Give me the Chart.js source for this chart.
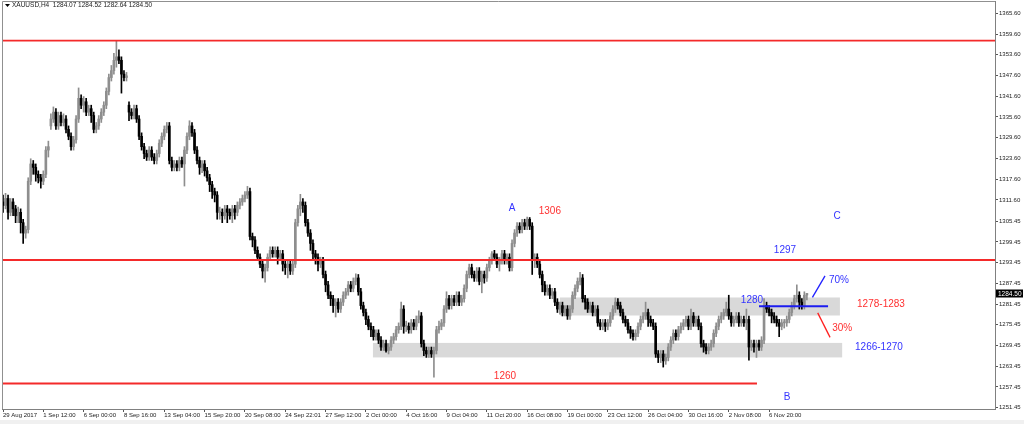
<!DOCTYPE html>
<html>
<head>
<meta charset="utf-8">
<script src="https://cdn.jsdelivr.net/npm/chart.js@4.4.1/dist/chart.umd.min.js"></script>
<style>
html, body { margin: 0; padding: 0; background: #fff; overflow: hidden; }
</style>
</head>
<body>
<canvas id="chart" width="1024" height="424"></canvas>
<script>
// XAUUSD H4 candles
const opens = [1311,1310,1312,1308,1311,1309,1307,1308,1305,1302,
1303,1317,1322,1321,1319,1318,1317,1319,1326,1333,
1335,1337,1333,1336,1334,1335,1332,1330,1327,1329,
1335,1341,1339,1340,1337,1338,1336,1332,1333,1335,
1337,1339,1343,1347,1349,1352,1353,1352,1348,1347,
1339,1337,1336,1338,1335,1330,1327,1325,1324,1326,
1324,1323,1325,1328,1330,1332,1333,1323,1321,1322,
1321,1323,1322,1326,1330,1333,1331,1326,1323,1321,
1322,1320,1318,1316,1314,1313,1308,1308,1307,1309,
1308,1307,1309,1308,1310,1311,1312,1313,1314,1301,
1300,1297,1295,1293,1291,1292,1295,1297,1296,1297,
1295,1296,1293,1292,1293,1291,1293,1305,1309,1311,
1310,1305,1302,1299,1296,1295,1293,1294,1290,1287,
1284,1283,1281,1282,1280,1282,1284,1285,1287,1286,
1288,1289,1285,1281,1279,1277,1275,1274,1272,1273,
1271,1269,1270,1268,1269,1271,1272,1274,1275,1280,
1275,1275,1274,1276,1275,1277,1278,1270,1268,1267,
1268,1267,1268,1274,1275,1276,1280,1283,1281,1283,
1282,1284,1282,1283,1286,1290,1292,1290,1289,1291,
1288,1290,1289,1292,1294,1296,1295,1293,1294,1296,
1294,1295,1292,1299,1302,1304,1303,1305,1304,1306,
1304,1294,1295,1293,1290,1287,1285,1286,1284,1285,
1282,1280,1281,1279,1280,1278,1280,1284,1286,1288,
1289,1283,1282,1280,1281,1279,1280,1276,1275,1276,
1275,1276,1278,1280,1282,1281,1279,1277,1276,1274,
1273,1272,1273,1275,1277,1278,1279,1277,1276,1275,
1267,1266,1267,1265,1266,1269,1271,1273,1272,1274,
1275,1276,1277,1275,1278,1276,1277,1275,1270,1269,
1268,1269,1270,1273,1275,1277,1278,1279,1280,1278,
1276,1277,1278,1276,1277,1276,1277,1269,1270,1269,
1270,1269,1271,1281,1280,1279,1278,1277,1276,1275,
1276,1276,1277,1279,1281,1283,1284,1282,1281,1284.07];

const highs = [1313,1313.5,1313,1312,1312,1310,1309.5,1309,1306,1304,
1318,1323.5,1323,1322,1320,1319,1320,1327,1328.6,1336.5,
1338.5,1338,1337,1337,1336.5,1336,1333,1331,1330,1336,
1344,1342,1341.5,1341,1339,1339,1337,1334,1336,1338,
1340,1344,1348,1350.5,1354,1357.6,1355,1353,1349,1348.5,
1340,1338,1339,1339,1336,1331,1328,1326,1327,1327,
1325,1326,1329,1331,1333,1334,1334,1324,1323,1323,
1324,1324,1327,1331,1334.5,1334,1332,1327,1324,1323,
1323,1321,1319,1317,1315,1314,1309.5,1309,1310,1310,
1309,1310,1310,1311,1312,1313,1314,1315.5,1315,1302,
1301,1298,1296,1294,1293,1296,1298,1298,1298,1298,
1297,1297,1294,1294,1294,1294,1306,1310,1313.2,1312,
1311,1306,1303,1300,1297,1296,1295,1295,1291,1288,
1285,1284,1283,1283,1283,1285,1286,1288,1288,1289,
1290.2,1290,1286,1282,1280,1278,1276,1275,1274,1274,
1272,1271,1271,1270,1272,1273,1275,1276,1282,1281,
1276.5,1276,1277,1277,1278,1279.5,1279,1271,1269,1269,
1269,1269,1275,1276.5,1277,1281,1285,1284,1284,1284,
1285,1285,1284,1287,1291,1293,1293,1291,1292,1292,
1291,1291,1293,1295,1296.6,1297,1296,1295,1297,1297,
1296,1296,1300,1303,1305,1305,1306,1306,1306.6,1306.5,
1305,1296,1296,1294,1291,1288,1287,1287,1286,1286,
1283,1282,1282,1281,1281,1281,1285,1287,1289,1290.6,
1290,1284,1283,1282,1282,1281,1281,1277,1277,1277,
1277,1279,1281,1283.2,1283,1282,1280,1278,1277,1275,
1274,1274,1276,1278,1279,1282,1280,1278,1277,1276,
1268,1268,1268,1267,1270,1272,1274,1274,1275,1276,
1277,1278,1278,1280,1279,1278,1278,1276,1271,1270,
1270,1271,1274,1276,1278,1279,1280,1282,1284,1279,
1278,1279,1279,1278,1278,1280,1278,1271,1271,1271,
1271,1272,1283,1282,1281,1280,1279,1278,1277,1277,
1277,1278,1280,1282,1284,1287,1285,1283,1285,1284.52];

const lows = [1308,1309,1306,1307,1307,1305,1305,1302,1299,1300.5,
1302,1316,1319,1317,1316.5,1315,1316,1318,1324,1332,
1334,1332,1332,1333,1333,1331,1329,1326,1326,1328,
1334,1338,1337,1336,1336,1334,1331,1331,1332,1334,
1336,1338,1342,1346,1348,1350,1351,1342.5,1346,1346,
1334.5,1335,1335,1334,1329,1326,1323.5,1323,1323,1323,
1322,1322,1324,1327,1329,1331,1322,1320,1320,1320,
1320,1321,1315.6,1325,1329,1330,1325,1322,1319,1319.5,
1318.5,1317,1314,1312,1311,1306,1306,1305,1306,1305,
1306,1305,1306,1307,1309,1310,1311,1312,1300,1298,
1296,1294,1292,1289,1287.8,1291,1294,1295,1295,1293,
1294,1291,1290,1289,1290,1290,1292,1304,1307,1308,
1304,1301,1297,1294,1293,1291,1292,1289,1285,1283,
1281,1279,1277.7,1279,1279,1281,1283,1284,1285,1285,
1287,1284,1280,1278,1275.5,1274,1272,1271,1271,1270,
1268,1268,1267.5,1267,1268,1270,1271,1273,1274,1273,
1273.5,1273,1273,1274,1274,1276,1269,1266.5,1266,1266,
1266,1260.3,1267,1273,1274,1275,1279,1280,1280,1281,
1281,1281,1281,1282,1285,1289,1289,1288,1288,1287,
1284.7,1287.5,1288,1291,1293,1294,1292,1291,1293,1293,
1293,1291,1291,1298,1301,1302,1302,1303,1303,1303,
1290,1292,1292,1289,1285,1284,1284,1283,1283,1281,
1279,1278.5,1278,1278,1277,1277,1279,1283,1285,1287,
1282,1280,1279,1279,1278,1278,1275,1274,1274,1273.5,
1274,1275,1277,1279,1280,1278,1276,1275,1273,1271.5,
1271,1271,1272,1274,1276,1277,1275,1275,1274,1266,
1264.5,1264.5,1263.2,1264,1265,1268,1270,1271,1271,1273,
1274,1275,1274,1274,1275,1275,1274,1269,1267.5,1267,
1267,1268,1269,1272,1274,1276,1277,1278,1277,1275,
1275,1276,1275,1275,1275,1274,1265.2,1268,1267.5,1266,
1268,1268,1270,1279,1278,1276,1276,1275,1272,1274,
1274.5,1275,1276,1278,1280,1282,1280,1280,1280,1282.64];

const closes = [1310,1312,1308,1311,1309,1307,1308,1305,1302,1303,
1317,1322,1321,1319,1318,1317,1319,1326,1327,1335,
1337,1333,1336,1334,1335,1332,1330,1327,1329,1335,
1341,1339,1340,1337,1338,1336,1332,1333,1335,1337,
1339,1343,1347,1349,1352,1353,1352,1348,1347,1347.5,
1337,1336,1338,1335,1330,1327,1325,1324,1326,1324,
1323,1325,1328,1330,1332,1333,1323,1321,1322,1321,
1323,1322,1326,1330,1333,1331,1326,1323,1321,1322,
1320,1318,1316,1314,1313,1308,1308,1307,1309,1308,
1307,1309,1308,1310,1311,1312,1313,1314,1301,1300,
1297,1295,1293,1291,1292,1295,1297,1296,1297,1295,
1296,1293,1292,1293,1291,1293,1305,1309,1311,1310,
1305,1302,1299,1296,1295,1293,1294,1290,1287,1284,
1283,1281,1282,1280,1282,1284,1285,1287,1286,1288,
1289,1285,1281,1279,1277,1275,1274,1272,1273,1271,
1269,1270,1268,1269,1271,1272,1274,1275,1280,1275,
1275,1274,1276,1275,1277,1278,1270,1268,1267,1268,
1267,1268,1274,1275,1276,1280,1283,1281,1283,1282,
1284,1282,1283,1286,1290,1292,1290,1289,1291,1288,
1290,1289,1292,1294,1296,1295,1293,1294,1296,1294,
1295,1292,1299,1302,1304,1303,1305,1304,1306,1304,
1294,1295,1293,1290,1287,1285,1286,1284,1285,1282,
1280,1281,1279,1280,1278,1280,1284,1286,1288,1289,
1283,1282,1280,1281,1279,1280,1276,1275,1276,1275,
1276,1278,1280,1282,1281,1279,1277,1276,1274,1273,
1272,1273,1275,1277,1278,1279,1277,1276,1275,1267,
1266,1267,1265,1266,1269,1271,1273,1272,1274,1275,
1276,1277,1275,1278,1276,1277,1275,1270,1269,1268,
1269,1270,1273,1275,1277,1278,1279,1280,1278,1276,
1277,1278,1276,1277,1276,1277,1269,1270,1269,1270,
1269,1271,1281,1280,1279,1278,1277,1276,1275,1276,
1276,1277,1279,1281,1283,1284,1282,1281,1284,1284.5];

// time axis: one label every 16 bars
const xTickBars = [0,16,32,48,64,80,96,112,128,144,160,176,192,208,224,240,256,272,288,304];
const xTickLabels = ['29 Aug 2017','1 Sep 12:00','6 Sep 00:00','8 Sep 16:00','13 Sep 04:00','15 Sep 20:00',
  '20 Sep 08:00','24 Sep 22:01','27 Sep 12:00','2 Oct 00:00','4 Oct 16:00','9 Oct 04:00','11 Oct 20:00',
  '16 Oct 08:00','19 Oct 00:00','23 Oct 12:00','26 Oct 04:00','30 Oct 16:00','2 Nov 08:00','6 Nov 20:00'];
const yTicks = [1365.60,1359.60,1353.60,1347.60,1341.60,1335.60,1329.60,1323.60,1317.60,1311.60,
  1305.45,1299.45,1293.45,1287.45,1281.45,1275.45,1269.45,1263.45,1257.45,1251.45];

// drawn objects (bar index / price)
const redLevels = [[1357.7, -0.4, 393.65], [1294.2, -0.4, 393.65], [1258.45, -0.4, 299.2]];
const zones = [[1278.13, 1283.35, 221, 332.1], [1266.0, 1270.2, 146.8, 333]];
const blueLevel = [1280.8, 300, 327.4];
const blueArrow = [[321.2, 1283.4], [326.2, 1289.6]];
const redArrow = [[323.3, 1278.9], [328.2, 1271.8]];
const notes = [
  ['A', 202, 1309.25, 'blue'], ['1306', 217, 1308.4, 'red'], ['C', 331, 1306.9, 'blue'],
  ['1297', 310.3, 1297.0, 'blue'], ['70%', 331.7, 1288.3, 'blue'], ['1278-1283', 348.4, 1281.5, 'red'],
  ['30%', 333, 1274.3, 'red'], ['1266-1270', 347.6, 1268.8, 'blue'], ['1280', 297.2, 1282.6, 'blue'],
  ['1260', 199.2, 1260.6, 'red'], ['B', 311.1, 1254.5, 'blue']
];
const header = 'XAUUSD,H4  1284.07 1284.52 1282.64 1284.50';

const BLUE = '#3434ff', RED = '#ff3030';
const colors = closes.map((c, i) => c >= opens[i] ? '#8e8e8e' : '#000000');

function seg(points, color, width) {
  return { type: 'line', data: points.map(p => ({x: p[0], y: p[1]})), borderColor: color,
    borderWidth: width, pointRadius: 0, order: 0, tension: 0 };
}

const overlay = {
  id: 'overlay',
  beforeDraw(chart) {
    const c = chart.ctx;
    c.save();
    c.fillStyle = '#f0f0f0';
    c.fillRect(0, 420, chart.width, chart.height - 420);
    c.restore();
  },
  beforeDatasetsDraw(chart) {
    const {ctx, scales: {x, y}} = chart;
    ctx.save();
    ctx.fillStyle = '#d9d9d9';
    zones.forEach(z => {
      const x0 = x.getPixelForValue(z[2]), x1 = x.getPixelForValue(z[3]);
      const y0 = y.getPixelForValue(z[1]), y1 = y.getPixelForValue(z[0]);
      ctx.fillRect(x0, y0, x1 - x0, y1 - y0);
    });
    ctx.restore();
  },
  afterDatasetsDraw(chart) {
    const {ctx, chartArea: a, scales: {x, y}} = chart;
    ctx.save();
    // frame
    ctx.strokeStyle = '#909090';
    ctx.lineWidth = 1;
    ctx.beginPath();
    ctx.moveTo(a.left + 0.5, a.bottom);
    ctx.lineTo(a.left + 0.5, a.top + 0.5);
    ctx.lineTo(a.right, a.top + 0.5);
    ctx.stroke();
    // notes
    ctx.font = '10px "Liberation Sans", Arial, sans-serif';
    ctx.textAlign = 'center';
    ctx.textBaseline = 'middle';
    notes.forEach(n => {
      ctx.fillStyle = n[3] === 'blue' ? BLUE : RED;
      ctx.fillText(n[0], x.getPixelForValue(n[1]), y.getPixelForValue(n[2]));
    });
    // header
    ctx.fillStyle = '#000';
    ctx.beginPath();
    ctx.moveTo(5, 4); ctx.lineTo(10, 4); ctx.lineTo(7.5, 7); ctx.closePath();
    ctx.fill();
    ctx.fillStyle = '#222';
    ctx.font = '6.5px "Liberation Sans", Arial, sans-serif';
    ctx.textAlign = 'left';
    ctx.fillText(header, 12, 5.5);
    // last price box
    const last = closes[closes.length - 1];
    const py = y.getPixelForValue(last);
    ctx.fillStyle = '#000';
    ctx.fillRect(996, py - 4, 27, 8);
    ctx.fillStyle = '#fff';
    ctx.fillText(last.toFixed(2), 998, py + 0.5);
    ctx.restore();
  }
};

const idx = closes.map((c, i) => i);

new Chart(document.getElementById('chart'), {
  type: 'bar',
  data: {
    datasets: [
      { label: 'wick', data: idx.map(i => ({x: i, y: [lows[i], highs[i]]})), backgroundColor: colors,
        barThickness: 1, grouped: false, order: 3 },
      { label: 'body', data: idx.map(i => ({x: i, y: [opens[i], closes[i]]})), backgroundColor: colors,
        barThickness: 2, minBarLength: 1, grouped: false, order: 2 },
      seg([[redLevels[0][1], redLevels[0][0]], [redLevels[0][2], redLevels[0][0]]], '#f42a2a', 1.8),
      seg([[redLevels[1][1], redLevels[1][0]], [redLevels[1][2], redLevels[1][0]]], '#f42a2a', 1.8),
      seg([[redLevels[2][1], redLevels[2][0]], [redLevels[2][2], redLevels[2][0]]], '#f42a2a', 1.8),
      seg([[blueLevel[1], blueLevel[0]], [blueLevel[2], blueLevel[0]]], '#1c1cf0', 2),
      seg(blueArrow, '#2020ff', 1.3),
      seg(redArrow, '#ff2020', 1.3)
    ]
  },
  options: {
    responsive: false,
    animation: false,
    devicePixelRatio: 1,
    layout: { padding: { left: 2, top: 1, right: 0, bottom: 0 } },
    plugins: { legend: { display: false }, tooltip: { enabled: false } },
    scales: {
      x: {
        type: 'linear', position: 'bottom', min: -0.4, max: 393.65, offset: false,
        grid: { drawOnChartArea: false, tickLength: 3, color: '#555', offset: false },
        border: { color: '#808080' },
        ticks: { autoSkip: false, maxRotation: 0, align: 'start', padding: 0, color: '#222',
          font: { size: 6, family: '"Liberation Sans", Arial, sans-serif' },
          callback: (v, i) => xTickLabels[i] },
        afterBuildTicks: s => { s.ticks = xTickBars.map(v => ({value: v})); },
        afterFit: s => { s.height = 15; s.paddingLeft = 0; s.paddingRight = 0; }
      },
      y: {
        type: 'linear', position: 'right', min: 1251.07, max: 1369.16,
        grid: { drawOnChartArea: false, tickLength: 3, color: '#555' },
        border: { color: '#808080' },
        ticks: { padding: 1, color: '#222',
          font: { size: 6, family: '"Liberation Sans", Arial, sans-serif' },
          callback: v => v.toFixed(2) },
        afterBuildTicks: s => { s.ticks = yTicks.map(v => ({value: v})); },
        afterFit: s => { s.width = 29; s.paddingTop = 0; s.paddingBottom = 0; }
      }
    }
  },
  plugins: [overlay]
});
</script>
</body>
</html>
